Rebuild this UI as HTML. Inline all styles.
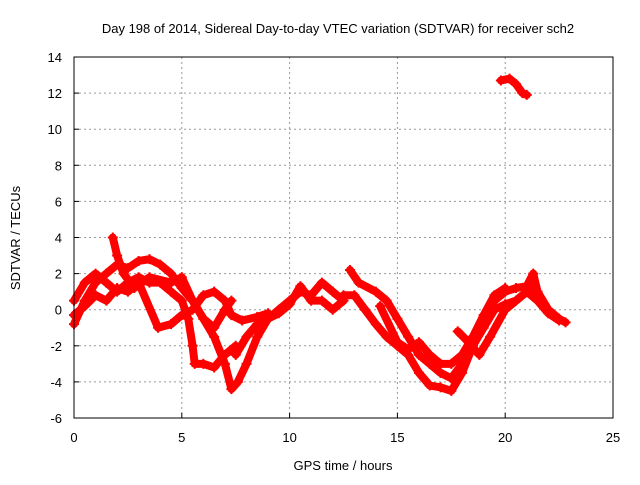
<!DOCTYPE html>
<html><head><meta charset="utf-8"><style>
body{margin:0;background:#fff;}
svg{font-family:"Liberation Sans",sans-serif;font-size:13px;}
</style></head><body>
<svg width="640" height="480" id="c">
<rect width="640" height="480" fill="#fff"/>
<text x="338" y="33" text-anchor="middle">Day 198 of 2014, Sidereal Day-to-day VTEC variation (SDTVAR) for receiver sch2</text>
<text x="343" y="470" text-anchor="middle">GPS time / hours</text>
<text x="20" y="238" text-anchor="middle" transform="rotate(-90 20 238)">SDTVAR / TECUs</text>
<g id="grid"></g><g id="data"></g>
<rect x="74" y="57" width="539" height="361" fill="none" stroke="#000"/>
</svg>
<script>
const xTicks=[0,5,10,15,20,25];
const yTicks=[-6,-4,-2,0,2,4,6,8,10,12,14];
const track1=[[0,-0.8],[0.5,0.5],[1,1.5],[1.5,2],[2,2.5],[2.5,2.3],[3,2.7],[3.5,2.8],[4,2.5],[4.5,2],[5,1.2],[5.5,0.5],[6,-0.5],[6.5,-1.5],[7,-3],[7.3,-4.4],[7.6,-4],[8,-3],[8.5,-1.5],[9,-0.5],[9.5,0],[10,0.5],[10.5,1],[11,0.8],[11.5,1.5],[12,1],[12.5,0.5]];
const track2=[[0,0.5],[0.5,1.5],[1,2],[1.5,1.5],[2,1],[2.5,1.5],[3,1.8],[3.5,1.5],[4,1.5],[4.5,1],[5,0.5],[5.3,-0.5],[5.5,-2],[5.6,-3],[6,-3],[6.5,-3.2],[7,-2.5],[7.5,-2]];
const track3=[[0,-0.3],[0.5,0.2],[1,0.8],[1.5,0.5],[2,1.2],[2.5,1],[3,1.5],[3.9,-1],[4.5,-0.8],[5,-0.3],[5.5,0],[6,0.8],[6.5,1],[7,0.5],[7.3,-0.3],[7.8,-0.6],[8.5,-0.4],[9,-0.2]];
const track4=[[1.8,4],[2,3],[2.3,2],[2.8,1.2],[3.5,1.8],[4.5,1.5],[5,1.8],[5.5,0.5],[6,-0.5],[6.5,-1],[7,0],[7.3,0.5]];
const track5=[[7.5,-2.5],[8,-1.5],[8.5,-0.8],[9,-0.5],[9.5,-0.2],[10,0.3],[10.5,1.3],[11,0.5],[11.5,0.5],[12,0],[12.5,0.5]];
const track6=[[12.5,0.8],[13,0.8],[13.5,0],[14,-0.8],[14.5,-1.5],[15,-2],[15.5,-2.5],[16,-3.5],[16.5,-4.2],[17,-4.3],[17.5,-4.5],[18,-3.5],[18.5,-2],[19,-0.5],[19.5,0.5],[20,1],[20.5,1.2],[21,1.3],[21.3,2],[21.5,1],[22,0],[22.5,-0.5],[22.8,-0.7]];
const track7=[[12.8,2.2],[13.2,1.5],[14,1],[14.5,0.5],[15,-0.5],[15.5,-1.5],[16,-2.5],[16.5,-3],[17,-3.5],[17.5,-3.8],[18,-3],[18.5,-2],[19,-1],[19.5,0],[20,0.3],[20.5,0.5],[21,1],[21.5,0.5],[22,-0.2],[22.5,-0.6]];
const track8=[[14.2,0.2],[15,-1.8],[15.5,-2.2],[16,-1.8],[16.5,-2.5],[17,-3],[17.5,-3],[18,-2.5],[18.5,-1.5],[19,-0.3],[19.5,0.8],[20,1.2]];
const track9=[[17.8,-1.2],[18.3,-1.8],[18.8,-2.5],[19.3,-1.5],[20,0],[20.8,0.8],[21.3,1.2]];
const track10=[[19.8,12.7],[20.2,12.8],[20.5,12.5],[20.8,12],[21,11.9]];
const tracks=[track1,track2,track3,track4,track5,track6,track7,track8,track9,track10];
const X=v=>74+v*(539/25), Y=v=>418-(v+6)*(361/20);
const ns="http://www.w3.org/2000/svg";
const g=document.getElementById('grid'), d=document.getElementById('data');
function mk(tag,attrs,parent){const e=document.createElementNS(ns,tag);for(const k in attrs)e.setAttribute(k,attrs[k]);parent.appendChild(e);return e;}
xTicks.forEach(t=>{
  if(t>0&&t<25){const l=mk('line',{x1:X(t),x2:X(t),y1:57,y2:418,stroke:'#999','stroke-dasharray':'2,3'},g);
  
  }
  mk('line',{x1:X(t),x2:X(t),y1:418,y2:413,stroke:'#000'},g);
  const tx=mk('text',{x:X(t),y:442,'text-anchor':'middle'},g);tx.textContent=t;
  
  
});
yTicks.forEach(t=>{
  if(t>-6&&t<14){const l=mk('line',{x1:74,x2:613,y1:Y(t),y2:Y(t),stroke:'#999','stroke-dasharray':'2,3'},g);
  
  }
  mk('line',{x1:74,x2:79,y1:Y(t),y2:Y(t),stroke:'#000'},g);
  const tx=mk('text',{x:62,y:Y(t)+5,'text-anchor':'end'},g);tx.textContent=t;
  
  
});
tracks.forEach(tr=>{
  const p=mk('polyline',{points:tr.map(q=>X(q[0])+','+Y(q[1])).join(' '),fill:'none',stroke:'#f00','stroke-width':8,'stroke-linejoin':'round','stroke-linecap':'round'},d);
  
  
  tr.forEach(q=>{
    const m=mk('path',{d:`M${X(q[0])-5},${Y(q[1])}h10M${X(q[0])},${Y(q[1])-5}v10`,stroke:'#f00','stroke-width':2},d);
    
    
  });
});
</script>
</body></html>
